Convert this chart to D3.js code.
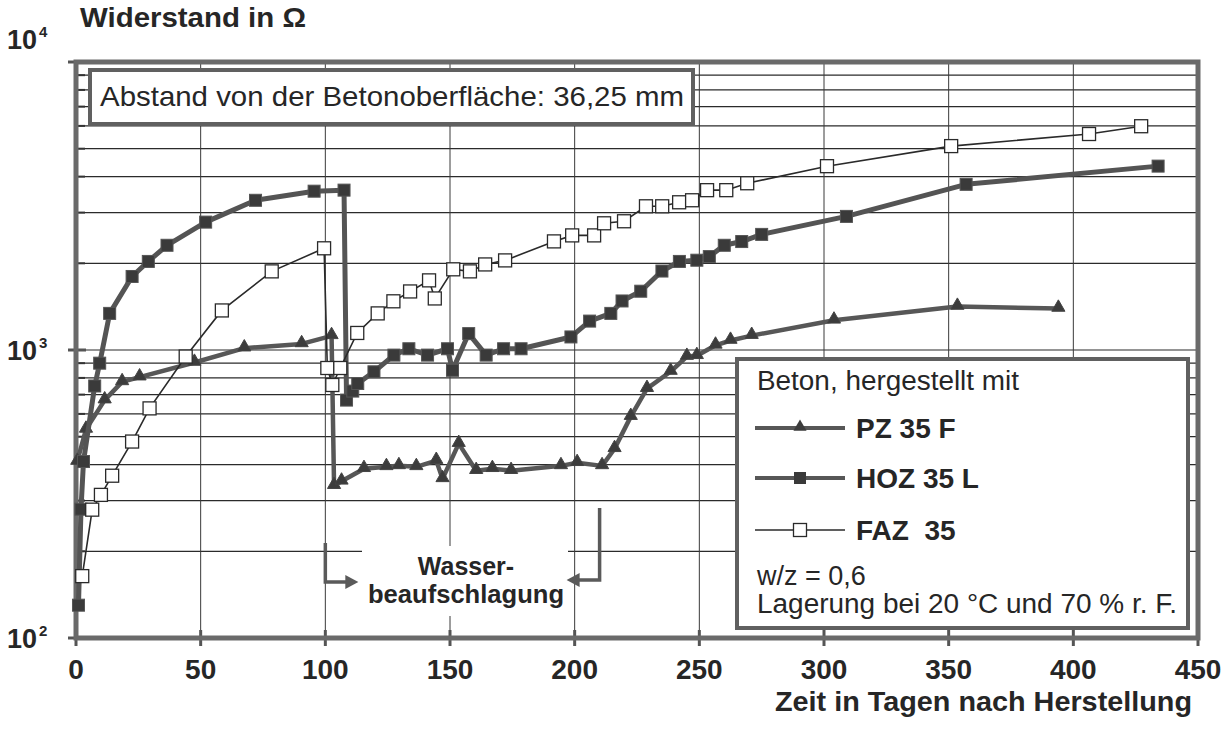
<!DOCTYPE html>
<html>
<head>
<meta charset="utf-8">
<script src="https://d3js.org/d3.v7.min.js"></script>
<style>
  body { margin: 0; background: #fff; }
  svg text { font-family: "Liberation Sans", Arial, sans-serif; fill: #262626; }
  .bold { font-weight: bold; }
</style>
</head>
<body>
<script>
  // PZ 35 F
  var pzDays = [0.5, 4, 11.5, 18.5, 25.5, 47.5, 67.5, 90.5, 102.5, 103.5, 106.5, 115.5, 124.5, 129.5, 136.5, 144.5, 147, 153.5, 160.5, 167, 174.5, 194.5, 201, 211, 216, 222.5, 229, 238.5, 245, 249, 256.5, 262.5, 271, 304, 353.5, 394];
  var pzValues = [410, 530, 670, 775, 805, 905, 1015, 1050, 1120, 338, 350, 387, 393, 396, 393, 413, 357, 473, 381, 387, 381, 396, 406, 396, 454, 587, 734, 842, 949, 955, 1038, 1079, 1122, 1268, 1416, 1394];

  // HOZ 35 L
  var hozDays = [1, 2, 3, 7.5, 9.5, 13.5, 22.5, 29, 36.5, 52, 72, 95.5, 107.5, 108.5, 111, 113, 119.5, 127.5, 133.5, 141, 149, 151, 157.5, 164.5, 171.5, 178.5, 198.5, 206, 214.5, 219, 226.5, 235, 242, 249, 254, 260, 267, 275, 309, 357, 434];
  var hozValues = [130, 280, 410, 750, 900, 1340, 1800, 2030, 2310, 2780, 3310, 3560, 3590, 670, 720, 765, 840, 960, 1010, 960, 1010, 850, 1140, 960, 1010, 1010, 1110, 1260, 1340, 1480, 1600, 1880, 2030, 2050, 2110, 2310, 2380, 2520, 2910, 3760, 4350];

  // FAZ 35
  var fazDays = [2.5, 6.5, 10, 14.5, 22.5, 29.5, 44, 58.5, 78.5, 99.5, 100.8, 102.8, 106, 112.8, 121, 127.3, 134, 141.6, 143.9, 151.3, 158, 164.1, 172.1, 191.7, 199, 207.8, 211.8, 219.8, 228.6, 235.1, 241.9, 247.1, 253.1, 260.8, 269.2, 301.2, 351, 406.3, 427.2];
  var fazValues = [164, 279, 314, 366, 481, 627, 949, 1372, 1875, 2255, 866, 756, 866, 1146, 1340, 1476, 1597, 1745, 1510, 1906, 1875, 1982, 2047, 2383, 2500, 2500, 2754, 2799, 3155, 3155, 3258, 3311, 3589, 3589, 3793, 4348, 5105, 5623, 5984];

  var xTicks = [0, 50, 100, 150, 200, 250, 300, 350, 400, 450];
  var yDecades = [100, 1000, 10000];
  var yExponents = ["2", "3", "4"];

  var legendLabels = ["PZ 35 F", "HOZ 35 L", "FAZ  35"];
  var waterStart = 100, waterEnd = 210;

  var width = 1231, height = 739;
  var pLeft = 76, pRight = 1198, pTop = 62, pBottom = 638;

  var svg = d3.select("body").append("svg")
      .attr("width", width)
      .attr("height", height);

  var x = d3.scaleLinear().domain([0, 450]).range([pLeft, pRight]);
  var y = d3.scaleLog().domain([100, 10000]).range([pBottom, pTop]);

  // grid: minor log lines
  var gridVals = [];
  [100, 1000].forEach(function (d) {
    for (var k = 2; k <= 9; k++) gridVals.push(k * d);
  });
  gridVals.push(1000);

  svg.append("g").selectAll("line")
    .data(gridVals).enter().append("line")
    .attr("x1", pLeft).attr("x2", pRight)
    .attr("y1", function (d) { return y(d); })
    .attr("y2", function (d) { return y(d); })
    .attr("stroke", "#2b2b2b").attr("stroke-width", 1.2);

  svg.append("g").selectAll("line")
    .data(xTicks.slice(1, -1)).enter().append("line")
    .attr("x1", function (d) { return x(d); })
    .attr("x2", function (d) { return x(d); })
    .attr("y1", pTop).attr("y2", pBottom)
    .attr("stroke", "#3a3a3a").attr("stroke-width", 1);

  // small ticks on left and bottom
  svg.append("g").selectAll("line")
    .data(gridVals).enter().append("line")
    .attr("x1", pLeft).attr("x2", pLeft + 9)
    .attr("y1", function (d) { return y(d); })
    .attr("y2", function (d) { return y(d); })
    .attr("stroke", "#333").attr("stroke-width", 2);
  svg.append("g").selectAll("line")
    .data(yDecades).enter().append("line")
    .attr("x1", pLeft - 8).attr("x2", pLeft + 10)
    .attr("y1", function (d) { return y(d); })
    .attr("y2", function (d) { return y(d); })
    .attr("stroke", "#555").attr("stroke-width", 3);
  svg.append("g").selectAll("line")
    .data(xTicks).enter().append("line")
    .attr("x1", function (d) { return x(d); })
    .attr("x2", function (d) { return x(d); })
    .attr("y1", pBottom - 8).attr("y2", pBottom + 8)
    .attr("stroke", "#555").attr("stroke-width", 3);

  // annotation background (covers grid)
  svg.append("rect")
    .attr("x", 362).attr("y", 546).attr("width", 206).attr("height", 70)
    .attr("fill", "#fff");

  // frame
  svg.append("rect")
    .attr("x", pLeft).attr("y", pTop)
    .attr("width", pRight - pLeft).attr("height", pBottom - pTop)
    .attr("fill", "none").attr("stroke", "#6a6a6a").attr("stroke-width", 5);

  // series
  var line = d3.line()
    .x(function (d) { return x(d[0]); })
    .y(function (d) { return y(d[1]); });

  function pairs(days, vals) {
    return days.map(function (d, i) { return [d, vals[i]]; });
  }

  var pz = pairs(pzDays, pzValues),
      hoz = pairs(hozDays, hozValues),
      faz = pairs(fazDays, fazValues);

  var tri = d3.symbol().type(d3.symbolTriangle).size(75);

  function drawPz(g, data) {
    g.append("path").datum(data).attr("d", line)
      .attr("fill", "none").attr("stroke", "#575757").attr("stroke-width", 4.5)
      .attr("stroke-linejoin", "round");
    g.selectAll("path.m").data(data).enter().append("path")
      .attr("class", "m")
      .attr("d", tri)
      .attr("transform", function (d) { return "translate(" + x(d[0]) + "," + (y(d[1]) - 1) + ")"; })
      .attr("fill", "#3c3c3c").attr("stroke", "#444").attr("stroke-width", 1);
  }
  function drawHoz(g, data) {
    g.append("path").datum(data).attr("d", line)
      .attr("fill", "none").attr("stroke", "#545454").attr("stroke-width", 5)
      .attr("stroke-linejoin", "round");
    g.selectAll("rect").data(data).enter().append("rect")
      .attr("x", function (d) { return x(d[0]) - 6; })
      .attr("y", function (d) { return y(d[1]) - 6; })
      .attr("width", 12).attr("height", 12)
      .attr("fill", "#3a3a3a").attr("stroke", "#555").attr("stroke-width", 1);
  }
  function drawFaz(g, data) {
    g.append("path").datum(data).attr("d", line)
      .attr("fill", "none").attr("stroke", "#2a2a2a").attr("stroke-width", 1.6);
    g.selectAll("rect").data(data).enter().append("rect")
      .attr("x", function (d) { return x(d[0]) - 6.5; })
      .attr("y", function (d) { return y(d[1]) - 6.5; })
      .attr("width", 13).attr("height", 13)
      .attr("fill", "#fff").attr("stroke", "#2a2a2a").attr("stroke-width", 1.3);
  }

  drawPz(svg.append("g"), pz);
  drawHoz(svg.append("g"), hoz);
  drawFaz(svg.append("g"), faz);

  // distance box
  svg.append("rect")
    .attr("x", 90).attr("y", 70).attr("width", 603).attr("height", 54)
    .attr("fill", "#fff").attr("stroke", "#606060").attr("stroke-width", 4);
  svg.append("text")
    .attr("x", 100).attr("y", 106)
    .attr("textLength", 584).attr("lengthAdjust", "spacingAndGlyphs")
    .style("font-size", "28px")
    .text("Abstand von der Betonoberfläche: 36,25 mm");

  // legend box
  var lg = svg.append("g");
  lg.append("rect")
    .attr("x", 737).attr("y", 359).attr("width", 451).attr("height", 269)
    .attr("fill", "#fff").attr("stroke", "#606060").attr("stroke-width", 4);
  lg.append("text").attr("x", 757).attr("y", 390).style("font-size", "27px")
    .attr("textLength", 262).attr("lengthAdjust", "spacingAndGlyphs")
    .text("Beton, hergestellt mit");
  var rowY = [428, 478, 530];
  rowY.forEach(function (ry, i) {
    var g = lg.append("g");
    g.append("line").attr("x1", 755).attr("x2", 845).attr("y1", ry).attr("y2", ry)
      .attr("stroke", i === 2 ? "#2a2a2a" : "#575757")
      .attr("stroke-width", i === 2 ? 1.6 : 4);
    if (i === 0) {
      g.append("path").attr("d", tri).attr("transform", "translate(800," + (ry - 1) + ")").attr("fill", "#3c3c3c");
    } else if (i === 1) {
      g.append("rect").attr("x", 794).attr("y", ry - 6).attr("width", 12).attr("height", 12).attr("fill", "#3a3a3a");
    } else {
      g.append("rect").attr("x", 793.5).attr("y", ry - 6.5).attr("width", 13).attr("height", 13)
        .attr("fill", "#fff").attr("stroke", "#2a2a2a").attr("stroke-width", 1.3);
    }
    lg.append("text").attr("class", "bold").attr("x", 856).attr("y", ry + 10)
      .style("font-size", "28px").style("white-space", "pre").text(legendLabels[i]);
  });
  lg.append("text").attr("x", 757).attr("y", 585).style("font-size", "27px").text("w/z = 0,6");
  lg.append("text").attr("x", 757).attr("y", 613).style("font-size", "27px")
    .attr("textLength", 420).attr("lengthAdjust", "spacingAndGlyphs")
    .text("Lagerung bei 20 °C und 70 % r. F.");

  // water exposure annotation
  var ax0 = x(waterStart), ax1 = x(waterEnd);
  svg.append("path")
    .attr("d", "M" + ax0 + ",543 V582 H" + (ax0 + 22))
    .attr("fill", "none").attr("stroke", "#5a5a5a").attr("stroke-width", 3.5);
  svg.append("path")
    .attr("d", "M" + (ax0 + 20) + ",575 L" + (ax0 + 33) + ",582 L" + (ax0 + 20) + ",589 Z")
    .attr("fill", "#5a5a5a");
  svg.append("path")
    .attr("d", "M" + ax1 + ",508 V580 H" + (ax1 - 22))
    .attr("fill", "none").attr("stroke", "#5a5a5a").attr("stroke-width", 3.5);
  svg.append("path")
    .attr("d", "M" + (ax1 - 20) + ",573 L" + (ax1 - 33) + ",580 L" + (ax1 - 20) + ",587 Z")
    .attr("fill", "#5a5a5a");
  svg.append("text").attr("class", "bold").attr("x", 466).attr("y", 575)
    .attr("text-anchor", "middle").style("font-size", "25px").text("Wasser-");
  svg.append("text").attr("class", "bold").attr("x", 466).attr("y", 603)
    .attr("text-anchor", "middle").style("font-size", "25px")
    .attr("textLength", 196).attr("lengthAdjust", "spacingAndGlyphs")
    .text("beaufschlagung");

  // x tick labels
  svg.append("g").selectAll("text")
    .data(xTicks).enter().append("text")
    .attr("class", "bold")
    .attr("x", function (d) { return x(d); })
    .attr("y", 679)
    .attr("text-anchor", "middle")
    .style("font-size", "28px")
    .text(function (d) { return d; });

  // y tick labels 10^n
  var yl = svg.append("g").selectAll("g")
    .data(yDecades).enter().append("g")
    .attr("transform", function (d) { return "translate(0," + y(d) + ")"; });
  yl.append("text").attr("class", "bold")
    .attr("x", 37).attr("y", function (d, i) { return i === 2 ? -13 : 10; })
    .attr("text-anchor", "end").style("font-size", "27px").text("10");
  yl.append("text").attr("class", "bold")
    .attr("x", 39).attr("y", function (d, i) { return i === 2 ? -25 : -2; })
    .style("font-size", "15px").text(function (d, i) { return yExponents[i]; });

  // axis titles
  svg.append("text").attr("class", "bold")
    .attr("x", 80).attr("y", 27).style("font-size", "27px")
    .attr("textLength", 226).attr("lengthAdjust", "spacingAndGlyphs")
    .text("Widerstand in Ω");
  svg.append("text").attr("class", "bold")
    .attr("x", 775).attr("y", 711).style("font-size", "27px")
    .attr("textLength", 417).attr("lengthAdjust", "spacingAndGlyphs")
    .text("Zeit in Tagen nach Herstellung");
</script>
</body>
</html>
